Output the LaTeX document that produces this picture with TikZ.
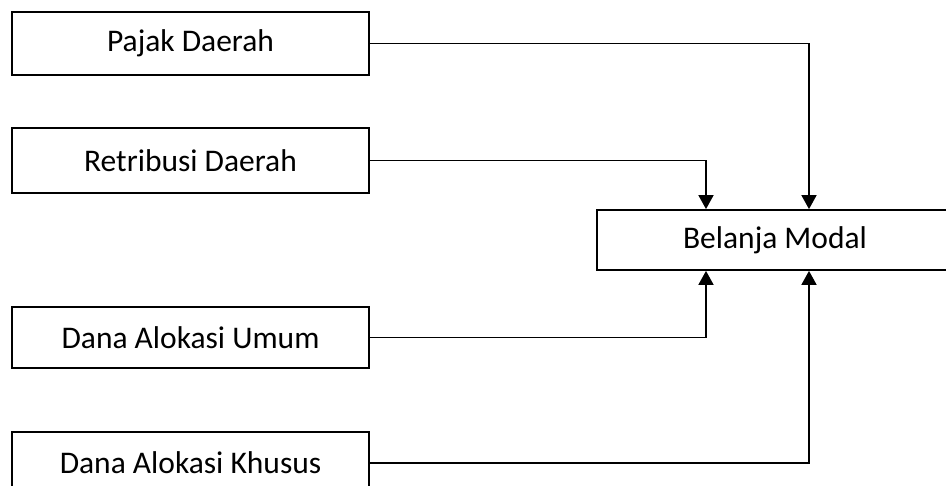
\documentclass[tikz,border=0pt]{standalone}
\usepackage{fontspec}
\setmainfont{Carlito}
\usetikzlibrary{arrows.meta}
\begin{document}
\begin{tikzpicture}[x=1pt,y=-1pt,
  box/.style={draw=black,line width=1.8pt,minimum width=357pt,inner sep=0pt,
    font=\fontsize{31.5}{36}\selectfont,text=black},
  conn/.style={line width=1.8pt,-{Triangle[length=14pt,width=15pt]}}]
\useasboundingbox (0,0) rectangle (946,486);
\clip (0,0) rectangle (946,486);
\fill[white] (0,0) rectangle (946,486);
\node[box,minimum height=63pt] (pajak) at (190.5,43.5) {Pajak Daerah};
\node[box,minimum height=65pt] (retri) at (190.5,160.5) {Retribusi Daerah};
\node[box,minimum height=61pt] (dau) at (190.5,337.5) {Dana Alokasi Umum};
\node[box,minimum height=62pt] (dak) at (190.5,463) {Dana Alokasi Khusus};
\node[box,minimum width=356pt,minimum height=60pt] (bm) at (775,240) {Belanja Modal};
\draw[conn] (pajak.east) -| ([xshift=34pt]bm.north);
\draw[conn] (retri.east) -| ([xshift=-69pt]bm.north);
\draw[conn] (dau.east) -| ([xshift=-69pt]bm.south);
\draw[conn] (dak.east) -| ([xshift=34pt]bm.south);
\end{tikzpicture}
\end{document}
